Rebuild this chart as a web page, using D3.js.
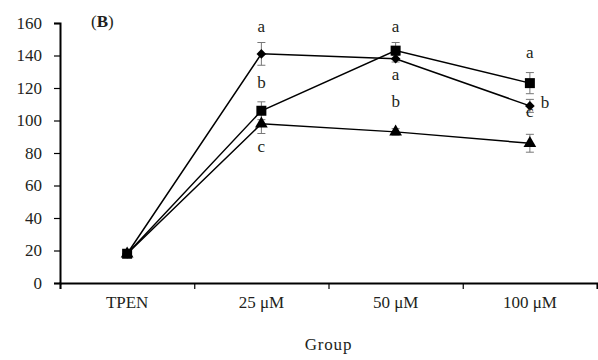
<!DOCTYPE html>
<html>
<head>
<meta charset="utf-8">
<script src="https://cdn.jsdelivr.net/npm/d3@7"></script>
<style>
  body { margin: 0; background: #fff; }
  svg text { font-family: "Liberation Serif", "DejaVu Serif", serif; fill: #231f20; }
</style>
</head>
<body>
<div id="chart"></div>
<script>
const groups = ['TPEN', '25 \u03bcM', '50 \u03bcM', '100 \u03bcM'];
const yTicks = [0, 20, 40, 60, 80, 100, 120, 140, 160];

// three series (diamond, square, triangle), mean and error
const diamondVals = [18, 141, 138, 109];
const diamondErr = [2, 7, 2, 4];
const squareVals = [18, 106, 143, 123];
const squareErr = [2, 5.5, 5, 6.5];
const triangleVals = [18, 98, 93, 86];
const triangleErr = [2, 6, 2, 5.5];

// significance letters: [group index, text, baseline value]
const letters = [
    [1, 'a', 154.7], [1, 'b', 119.8], [1, 'c', 80.4],
    [2, 'a', 154.7], [2, 'a', 125], [2, 'b', 108.5],
    [3, 'a', 138.3], [3, 'c', 102]
];
const sideLetters = [[3, 'b', 107.5]];

const width = 598, height = 360;
const margin = { left: 60, right: 1, top: 23, bottom: 77 };
const fontSize = '17px';

const svg = d3.select('#chart').append('svg')
    .attr('width', width)
    .attr('height', height);

const x = d3.scaleLinear()
    .domain([0, groups.length])
    .range([margin.left, width - margin.right]);

const y = d3.scaleLinear()
    .domain([0, 160])
    .range([height - margin.bottom, margin.top]);

const cx = i => x(i + 0.5);

// y axis
const yAxis = svg.append('g')
    .attr('transform', `translate(${margin.left},0)`)
    .call(d3.axisLeft(y).tickValues(yTicks).tickSize(6).tickPadding(12));
yAxis.select('.domain').attr('stroke-width', 2).attr('stroke', '#000');
yAxis.selectAll('.tick line').attr('stroke-width', 1.2);
yAxis.selectAll('text').style('font-size', fontSize).attr('fill', '#231f20');

// x axis (ticks at group boundaries)
const xAxis = svg.append('g')
    .attr('transform', `translate(0,${y(0)})`)
    .call(d3.axisBottom(x).tickValues(d3.range(groups.length + 1)).tickSize(6).tickFormat(''));
xAxis.select('.domain').attr('stroke-width', 2).attr('stroke', '#000');
xAxis.selectAll('.tick line').attr('stroke-width', 1.2);

svg.append('g').selectAll('text')
    .data(groups)
    .join('text')
    .attr('x', (d, i) => cx(i))
    .attr('y', y(0) + 25)
    .attr('text-anchor', 'middle')
    .style('font-size', fontSize)
    .text(d => d);

svg.append('text')
    .attr('x', (x(0) + x(groups.length)) / 2)
    .attr('y', 350)
    .attr('text-anchor', 'middle')
    .style('font-size', fontSize)
    .style('letter-spacing', '0.8px')
    .text('Group');

// panel label
const lab = svg.append('text')
    .attr('x', 91)
    .attr('y', 27)
    .style('font-size', fontSize);
lab.append('tspan').text('(');
lab.append('tspan').style('font-weight', 'bold').text('B');
lab.append('tspan').text(')');

const series = [
    { vals: diamondVals, err: diamondErr, sym: d3.symbolDiamond2, size: 60 },
    { vals: squareVals, err: squareErr, sym: d3.symbolSquare, size: 100 },
    { vals: triangleVals, err: triangleErr, sym: d3.symbolTriangle, size: 70 }
];

const line = d3.line()
    .x((d, i) => cx(i))
    .y(d => y(d));

// error bars
series.forEach(s => {
    const g = svg.append('g').attr('stroke', '#777').attr('stroke-width', 1);
    s.vals.forEach((v, i) => {
        const top = y(v + s.err[i]), bot = y(v - s.err[i]);
        g.append('line').attr('x1', cx(i)).attr('x2', cx(i)).attr('y1', top).attr('y2', bot);
        g.append('line').attr('x1', cx(i) - 4).attr('x2', cx(i) + 4).attr('y1', top).attr('y2', top);
        g.append('line').attr('x1', cx(i) - 4).attr('x2', cx(i) + 4).attr('y1', bot).attr('y2', bot);
    });
});

// lines
series.forEach(s => {
    svg.append('path')
        .datum(s.vals)
        .attr('fill', 'none')
        .attr('stroke', '#000')
        .attr('stroke-width', 1.5)
        .attr('d', line);
});

// markers
series.forEach(s => {
    svg.append('g').selectAll('path')
        .data(s.vals)
        .join('path')
        .attr('transform', (d, i) => `translate(${cx(i)},${y(d)})`)
        .attr('d', d3.symbol(s.sym, s.size))
        .attr('fill', '#000');
});

// letters
svg.append('g').selectAll('text')
    .data(letters)
    .join('text')
    .attr('x', d => cx(d[0]))
    .attr('y', d => y(d[2]))
    .attr('text-anchor', 'middle')
    .style('font-size', fontSize)
    .text(d => d[1]);

svg.append('g').selectAll('text')
    .data(sideLetters)
    .join('text')
    .attr('x', d => cx(d[0]) + 15)
    .attr('y', d => y(d[2]))
    .attr('text-anchor', 'middle')
    .style('font-size', fontSize)
    .text(d => d[1]);
</script>
</body>
</html>
